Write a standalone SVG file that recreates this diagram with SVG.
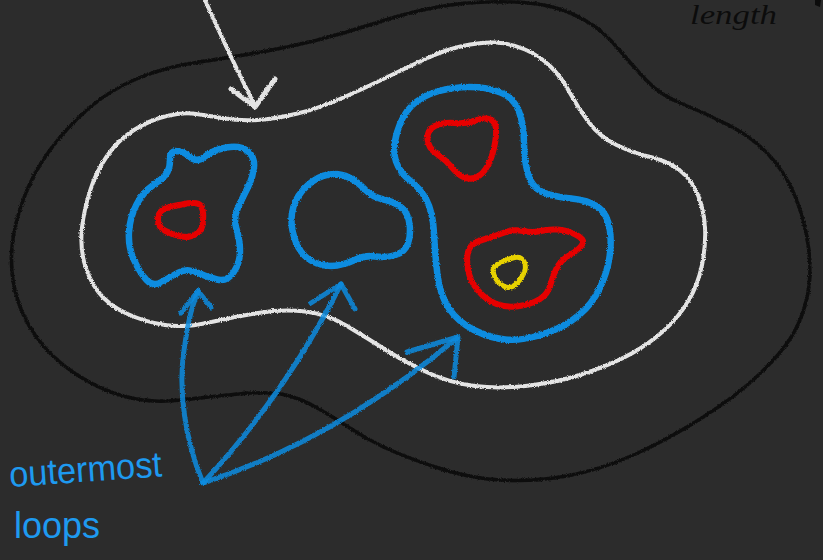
<svg xmlns="http://www.w3.org/2000/svg" width="823" height="560" viewBox="0 0 823 560">
<defs>
<filter id="chalk" filterUnits="userSpaceOnUse" x="0" y="0" width="823" height="560">
<feTurbulence type="fractalNoise" baseFrequency="1.3" numOctaves="2" seed="4" result="n"/>
<feDisplacementMap in="SourceGraphic" in2="n" scale="3" xChannelSelector="R" yChannelSelector="G"/>
</filter>
<style>
.c{fill:none;stroke-linecap:round;stroke-linejoin:round;filter:url(#chalk)}
.blk{stroke:#0c0c0c;stroke-width:3.5}
.wht{stroke:#e4e4e4;stroke-width:4}
.blu{stroke:#0a8ce0;stroke-width:6.5}
.red{stroke:#e60000;stroke-width:6}
.yel{stroke:#e8d200;stroke-width:5}
.arr{stroke:#0a8ce0;stroke-width:5;opacity:0.85}
.hand{font-family:"Liberation Sans","DejaVu Sans",sans-serif;fill:#1e9af0}
</style>
</defs>
<rect width="823" height="560" fill="#2c2c2c"/>
<g id="outer-black">
<path class="c blk" d="M88.5,108.5 Q110,90 137.5,78.5 Q165,67 199,62 Q233,57 261.5,52 Q290,47 317.5,40 Q345,33 372.5,24 Q400,15 425,9.5 Q450,4 475,2.5 Q500,1 522.5,2.5 Q545,4 561,9.5 Q577,15 591,24 Q605,33 618.5,49 Q632,65 646,80 Q660,95 682.5,104 Q705,113 728.5,125 Q752,137 768.5,154.5 Q785,172 795,196 Q805,220 808.5,247.5 Q812,275 807,297.5 Q802,320 791,337.5 Q780,355 757.5,376 Q735,397 701,418.5 Q667,440 633.5,455 Q600,470 566.5,476 Q533,482 500,480 Q467,478 433.5,466.5 Q400,455 382.5,446.5 Q365,438 349,427.5 Q333,417 316.5,407.5 Q300,398 283.5,394.5 Q267,391 233.5,394.5 Q200,398 175,400.5 Q150,403 125,396.5 Q100,390 75,373.5 Q50,357 35,335 Q20,313 15,290.5 Q10,268 12,246.5 Q14,225 23.5,199 Q33,173 50,150 Q67,127 88.5,108.5 Z"/>
</g>
<g id="white-loop">
<path class="c wht" d="M134,130 Q150,120 166.5,116 Q183,112 196.5,114 Q210,116 225,118.5 Q240,121 257.5,120 Q275,119 297.5,113.5 Q320,108 343.5,97.5 Q367,87 388.5,76.5 Q410,66 427.5,58 Q445,50 462.5,46 Q480,42 495,42.5 Q510,43 525,49.5 Q540,56 551,67 Q562,78 570,93 Q578,108 589,122.5 Q600,137 616.5,145 Q633,153 650.5,157 Q668,161 680,170.5 Q692,180 698,195 Q704,210 705,227.5 Q706,245 702,265 Q698,285 688,301.5 Q678,318 664,330.5 Q650,343 632.5,353 Q615,363 587.5,372.5 Q560,382 530,385.5 Q500,389 475,386 Q450,383 427.5,372.5 Q405,362 386,350 Q367,338 347,326 Q327,314 305,311.5 Q283,309 258,313 Q233,317 209,322.5 Q185,328 165,325 Q145,322 126.5,313.5 Q108,305 98,291.5 Q88,278 84,261.5 Q80,245 82,227.5 Q84,210 90,191 Q96,172 107,156 Q118,140 134,130 Z"/>
</g>
<g id="blue-left">
<path class="c blu" d="M170,160 Q169,152 176.5,151 Q183,151 190,157 Q197,163 205,156.5 Q213,150 226.5,147.5 Q240,145 247.5,151 Q255,157 254,167 Q253,177 248,187 Q243,197 238,207.5 Q233,218 236.5,229 Q240,240 240,251.5 Q240,263 233.5,272.5 Q227,282 217,279.5 Q207,277 197,272.5 Q187,268 178.5,272.5 Q170,277 161.5,282 Q153,287 146.5,280 Q140,273 134,260 Q128,247 129,232 Q130,217 136.5,204.5 Q143,192 154,184.5 Q165,177 167.5,172 Q170,167 170,160 Z"/>
</g>
<g id="red-left">
<path class="c red" d="M158,220 Q158,213 162.5,210 Q167,207 182,204.5 Q198,201 201,206 Q204,211 203,220 Q203,231 196,234 Q190,238 181.5,236.5 Q173,235 165.5,231 Q158,227 158,220 Z"/>
</g>
<g id="blue-middle">
<path class="c blu" d="M293.5,206.5 Q297,195 307.5,185.5 Q318,176 329,174.5 Q340,173 349,177.5 Q358,182 365,189.5 Q372,197 383.5,199.5 Q395,202 401.5,207.5 Q408,213 409.5,224 Q411,235 408,243.5 Q405,252 395.5,255 Q386,258 375.5,256.5 Q365,255 356,259.5 Q347,264 337,265.5 Q327,267 317,263.5 Q307,260 301,251.5 Q295,243 292.5,230.5 Q290,218 293.5,206.5 Z"/>
</g>
<g id="blue-right">
<path class="c blu" d="M396,161.5 Q392,150 397,132.5 Q402,115 412,105.5 Q422,96 437.5,91.5 Q453,87 470,87 Q487,87 500.5,92.5 Q514,98 519,111.5 Q524,125 524,142.5 Q524,160 528,174 Q532,188 543.5,192.5 Q555,197 571.5,198.5 Q588,200 598,207 Q608,214 610,231 Q612,248 608,265 Q604,282 595.5,296 Q587,310 572.5,320 Q558,330 539,335.5 Q520,341 505,339.5 Q490,338 474,330 Q458,322 449,308.5 Q440,295 437.5,275 Q435,255 434,233.5 Q433,212 426.5,200 Q420,188 410,180.5 Q400,173 396,161.5 Z"/>
</g>
<g id="red-top-right">
<path class="c red" d="M427.5,139 Q427,130 435,126 Q443,122 455,123 Q467,124 475.5,120.5 Q484,117 490.5,119.5 Q497,122 496,135 Q495,148 490.5,159.5 Q486,171 479.5,175.5 Q473,180 466,178 Q459,176 452.5,168 Q446,160 437,154 Q428,148 427.5,139 Z"/>
</g>
<g id="red-bottom-right">
<path class="c red" d="M468.5,250.5 Q471,243 482,240 Q493,237 503,233 Q513,229 523,231 Q533,233 540.5,231 Q548,229 557,229.5 Q566,230 575.5,234.5 Q585,239 582.5,244 Q580,249 570.5,254.5 Q561,260 557,267.5 Q553,275 550.5,284.5 Q548,294 540,299 Q532,304 519.5,306 Q507,308 496.5,304 Q486,300 478,290.5 Q470,281 468,269.5 Q466,258 468.5,250.5 Z"/>
</g>
<g id="yellow">
<path class="c yel" d="M493,270 Q493,266 500.5,262.5 Q508,259 514.5,257.5 Q521,256 524,261.5 Q527,267 523.5,274 Q520,281 515,285 Q510,289 504.5,286.5 Q499,284 496,279 Q493,274 493,270 Z"/>
</g>
<g id="connectors">
<path class="c wht" d="M205,0 Q228,52 255,106"/>
<path class="c wht" d="M231,89 L255,107 L275,79" style="stroke-width:5"/>
<path class="c arr" d="M203,483 C185,440 178,390 184,350 S193,305 198,291"/>
<path class="c arr" d="M181,313 L198,291 L211,307"/>
<path class="c arr" d="M203,483 Q285,395 341,284"/>
<path class="c arr" d="M311,303 L341,284 L355,309"/>
<path class="c arr" d="M203,483 Q335,440 457,338"/>
<path class="c arr" d="M407,352 L458,337 L454,377"/>
</g>
<g id="labels">
<text class="hand" x="10" y="487" font-size="36" textLength="153" lengthAdjust="spacingAndGlyphs" transform="rotate(-4 10 487)">outermost</text>
<text class="hand" x="14" y="538" font-size="36" textLength="86" lengthAdjust="spacingAndGlyphs">loops</text>
<text x="690" y="24" font-family="Liberation Serif, serif" font-style="italic" font-size="28" fill="#0c0c0c" textLength="87" lengthAdjust="spacingAndGlyphs">length</text>
<path d="M815,0 L821,0 L820,7 L815,5 Z" fill="#0c0c0c"/>
</g>
</svg>
